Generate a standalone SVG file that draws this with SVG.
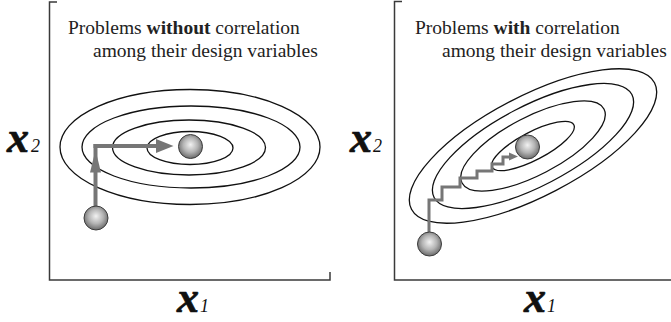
<svg xmlns="http://www.w3.org/2000/svg" width="671" height="322" viewBox="0 0 671 322">
<style>
.axis{fill:none;stroke:#3a3a3a;stroke-width:1.5}
.cont{fill:none;stroke:#111;stroke-width:1.3}
.ball{fill:url(#shade);stroke:#3c3c3c;stroke-width:1}
.path{fill:none;stroke:#767676;stroke-width:4}
.stair{fill:none;stroke:#767676;stroke-width:3}
.head{fill:#767676}
.t{font-size:19.5px;fill:#222}
.var{font-weight:bold;font-style:italic;font-size:44px;fill:#111;stroke:#111;stroke-width:0.7}
.sub{font-style:italic;font-size:18px;fill:#111}
</style>
<defs>
<radialGradient id="shade" cx="0.5" cy="0.45" r="0.55" fx="0.5" fy="0.42">
<stop offset="0" stop-color="#f2f2f2"/>
<stop offset="0.55" stop-color="#b4b4b4"/>
<stop offset="1" stop-color="#6a6a6a"/>
</radialGradient>
</defs>

<g id="left-panel" font-family="Liberation Serif, serif">
<g id="left-axes">
<polyline class="axis" points="57,2 49.5,2 49.5,280 330,280 330,272"/>
</g>
<g id="left-title">
<text class="t" x="68" y="34">Problems <tspan font-weight="bold">without</tspan> correlation</text>
<text class="t" x="93" y="57">among their design variables</text>
</g>
<g id="left-contours">
<ellipse class="cont" cx="190" cy="147" rx="130" ry="57.5"/>
<ellipse class="cont" cx="191" cy="147" rx="109" ry="41"/>
<ellipse class="cont" cx="189" cy="147.5" rx="76.5" ry="27.5"/>
<ellipse class="cont" cx="190" cy="148" rx="43" ry="16.5"/>
</g>
<g id="left-x2"><text class="var" x="7" y="152">x</text><text class="sub" x="31" y="152">2</text></g>
<g id="left-x1"><text class="var" x="177" y="312">x</text><text class="sub" x="200" y="312">1</text></g>
</g>

<g id="right-panel" font-family="Liberation Serif, serif">
<g id="right-axes">
<polyline class="axis" points="402,1.5 394.5,1.5 394.5,280 671,280"/>
</g>
<g id="right-title">
<text class="t" x="415" y="34">Problems <tspan font-weight="bold">with</tspan> correlation</text>
<text class="t" x="442" y="57">among their design variables</text>
</g>
<g id="right-contours" transform="translate(533 146) rotate(-27.5)">
<ellipse class="cont" cx="0" cy="0" rx="137" ry="50"/>
<ellipse class="cont" cx="0" cy="0" rx="111.5" ry="40"/>
<ellipse class="cont" cx="0" cy="0" rx="80" ry="29"/>
<ellipse class="cont" cx="0" cy="0" rx="46" ry="14"/>
</g>
<g id="right-x2"><text class="var" x="350" y="152">x</text><text class="sub" x="373" y="152">2</text></g>
<g id="right-x1"><text class="var" x="524" y="312">x</text><text class="sub" x="547" y="312">1</text></g>
</g>

<g id="connectors">
<line class="path" x1="95.5" y1="207" x2="95.5" y2="144"/>
<polygon class="head" points="95.5,150 90,172.5 101,172.5"/>
<line class="path" x1="93.5" y1="146" x2="160" y2="146"/>
<polygon class="head" points="173.5,146 156,139 156,153"/>
<polyline class="stair" points="429,233 429,200 442,200 442,187 460,187 460,178 477,178 477,171 492,171 492,164 503,164 503,157 511,157"/>
<polygon class="head" points="518,156.5 509,152.5 509,160.5"/>
</g>

<g id="left-start"><circle class="ball" cx="96" cy="218" r="12"/></g>
<g id="left-optimum"><circle class="ball" cx="190.5" cy="146.5" r="12"/></g>
<g id="right-start"><circle class="ball" cx="429.5" cy="244" r="12"/></g>
<g id="right-optimum"><circle class="ball" cx="527.5" cy="147" r="12"/></g>
</svg>
